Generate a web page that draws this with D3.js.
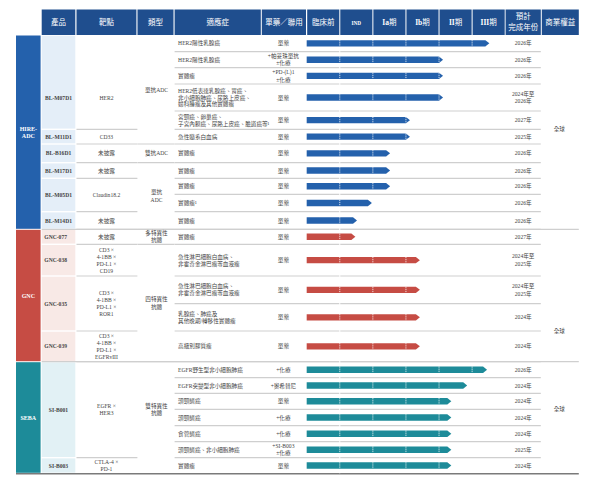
<!DOCTYPE html>
<html>
<head>
<meta charset="utf-8">
<script src="https://cdn.jsdelivr.net/npm/d3@7"></script>
<style>
  body { margin: 0; background: #fff; }
  svg { display: block; }
</style>
</head>
<body>
<svg id="chart" width="591" height="482"></svg>
<script>
// ---------- data ----------
const headers = ["產品", "靶點", "類型", "適應症", "單藥／聯用"];
const stages = ["臨床前", "IND", "Ia期", "Ib期", "II期", "III期"];
const tailHeaders = ["預計\n完成年份", "商業權益"];

const groups = [
  {name: "HIRE-\nADC", from: 0, to: 10},
  {name: "GNC", from: 11, to: 15},
  {name: "SEBA", from: 16, to: 22}
];
const products = [
  {text: "BL-M07D1", from: 0, to: 4},
  {text: "BL-M11D1", from: 5, to: 5},
  {text: "BL-B16D1", from: 6, to: 6},
  {text: "BL-M17D1", from: 7, to: 7},
  {text: "BL-M05D1", from: 8, to: 9},
  {text: "BL-M14D1", from: 10, to: 10},
  {text: "GNC-077", from: 11, to: 11},
  {text: "GNC-038", from: 12, to: 12},
  {text: "GNC-035", from: 13, to: 14},
  {text: "GNC-039", from: 15, to: 15},
  {text: "SI-B001", from: 16, to: 21},
  {text: "SI-B003", from: 22, to: 22}
];
const targets = [
  {text: "HER2", from: 0, to: 4},
  {text: "CD33", from: 5, to: 5},
  {text: "未披露", from: 6, to: 6},
  {text: "未披露", from: 7, to: 7},
  {text: "Claudin18.2", from: 8, to: 9},
  {text: "未披露", from: 10, to: 10},
  {text: "未披露", from: 11, to: 11},
  {text: "CD3 ×\n4-1BB ×\nPD-L1 ×\nCD19", from: 12, to: 12},
  {text: "CD3 ×\n4-1BB ×\nPD-L1 ×\nROR1", from: 13, to: 14},
  {text: "CD3 ×\n4-1BB ×\nPD-L1 ×\nEGFRvIII", from: 15, to: 15},
  {text: "EGFR ×\nHER3", from: 16, to: 21},
  {text: "CTLA-4 ×\nPD-1", from: 22, to: 22}
];
const types = [
  {text: "單抗ADC", from: 0, to: 5},
  {text: "雙抗ADC", from: 6, to: 6},
  {text: "單抗\nADC", from: 7, to: 10},
  {text: "多特異性\n抗體", from: 11, to: 11},
  {text: "四特異性\n抗體", from: 12, to: 15},
  {text: "雙特異性\n抗體", from: 16, to: 22}
];
const indications = [
  "HER2陽性乳腺癌",
  "HER2陽性乳腺癌",
  "實體瘤",
  "HER2低表達乳腺癌、胃癌、\n非小細胞肺癌、尿路上皮癌、\n婦科腫瘤及其他實體瘤",
  "宮頸癌、卵巢癌、\n子宮內膜癌、尿路上皮癌、膽道癌等¹",
  "急性髓系白血病",
  "實體瘤",
  "實體瘤",
  "實體瘤",
  "實體瘤¹",
  "實體瘤",
  "實體瘤",
  "急性淋巴細胞白血病、\n非霍奇金淋巴瘤等血液瘤",
  "急性淋巴細胞白血病、\n非霍奇金淋巴瘤等血液瘤",
  "乳腺癌、肺癌及\n其他晚期/轉移性實體瘤",
  "高級別膠質瘤",
  "EGFR野生型非小細胞肺癌",
  "EGFR突變型非小細胞肺癌",
  "頭頸鱗癌",
  "頭頸鱗癌",
  "食管鱗癌",
  "頭頸鱗癌、非小細胞肺癌",
  "實體瘤"
];
const combos = [
  "單藥", "+帕妥珠單抗\n±化療", "+PD-(L)1\n±化療", "單藥", "單藥", "單藥",
  "單藥", "單藥", "單藥", "單藥", "單藥",
  "單藥", "單藥", "單藥", "單藥", "單藥",
  "+化療", "+奧希替尼", "單藥", "+化療", "+化療", "+SI-B003\n±化療", "單藥"
];
// how far each bar reaches, in stages (0 = start of 臨床前, 6 = end of III期)
const progress = [
  5.4, 4.0, 4.0, 4.0, 3.0, 3.0, 2.4, 2.4, 2.4, 1.85, 1.4,
  1.35, 3.3, 3.3, 3.3, 3.3,
  5.33, 4.73, 4.25, 4.25, 4.25, 4.25, 4.25
];
const years = [
  "2026年", "2026年", "2026年", "2024年至\n2026年", "2027年", "2025年",
  "2026年", "2026年", "2026年", "2026年", "2026年",
  "2027年", "2024年至\n2025年", "2024年至\n2025年", "2024年", "2024年",
  "2026年", "2024年", "2024年", "2024年", "2024年", "2025年", "2024年"
];
const rights = ["全球", "全球", "全球"];

// ---------- layout ----------
const groupColor = ["#2461ac", "#c64c44", "#1d8b99"];
const groupLight = ["#e4eef8", "#f8e9e6", "#e2f1f5"];
const headerColor = "#1f4e8e";
const textColor = "#444";
const lineColor = "#cfcfcf";
const font = "'Liberation Serif', 'Noto Sans CJK TC', serif";

const rowH = [16.7, 16, 16.3, 27, 18.3, 14.7, 18.7, 15.6, 16, 17.4, 17.6,
              15, 31.7, 27.7, 27.3, 30.7,
              16, 15.6, 16, 16.4, 16, 16, 15.6];
const bodyTop = 35;
const yTop = [bodyTop].concat(Array.from(d3.cumsum(rowH), v => bodyTop + v));
const midY = (a, b) => (yTop[a] + yTop[b + 1]) / 2;

const cols = {
  group: [16, 40.6], product: [41.7, 75.3], target: [76.5, 136.4], type: [137.5, 173.5],
  ind: [174.6, 260.8], combo: [261.8, 306], year: [505.6, 540.8], rights: [541.8, 578.8]
};
const x = d3.scaleLinear().domain([0, stages.length]).range([306.7, 505.2]);
const headTop = 9.5, headBottom = 35;

// label centring exceptions seen in the original
const labelSpan = {product: {0: [3, 3]}, target: {0: [3, 3]}, type: {5: [16, 21]}};
const rightsAt = [5, 15, 19];
const productAnchor = ["middle", "start", "middle"];

const svg = d3.select("#chart");

function multiText(str, tx, ty, opts) {
  const o = Object.assign({size: 5.6, lh: 6.8, anchor: "middle", fill: textColor, weight: "normal"}, opts);
  const lines = str.split("\n");
  const t = svg.append("text")
    .attr("text-anchor", o.anchor)
    .attr("font-family", font)
    .attr("font-size", o.size)
    .attr("font-weight", o.weight)
    .attr("fill", o.fill);
  lines.forEach(function (l, i) {
    t.append("tspan")
      .attr("x", tx)
      .attr("y", ty - (lines.length - 1) * o.lh / 2 + i * o.lh + o.size * 0.36)
      .text(l);
  });
  return t;
}

// ---------- header ----------
const headCols = [cols.product, cols.target, cols.type, cols.ind, cols.combo]
  .concat(stages.map((s, i) => [x(i) + 0.5, x(i + 1) - 0.5]))
  .concat([cols.year, cols.rights]);
const headText = headers.concat(stages, tailHeaders);

svg.selectAll("rect.head")
  .data(headCols)
  .join("rect")
  .attr("class", "head")
  .attr("x", d => d[0])
  .attr("y", headTop)
  .attr("width", d => d[1] - d[0])
  .attr("height", headBottom - headTop)
  .attr("fill", headerColor);

headText.forEach(function (h, i) {
  const cx = (headCols[i][0] + headCols[i][1]) / 2;
  const cy = (headTop + headBottom) / 2;
  const m = h.match(/^(I+a?b?|IND)(期?)$/);
  if (m) {
    const t = svg.append("text")
      .attr("x", cx).attr("y", cy + 2.6)
      .attr("text-anchor", "middle")
      .attr("font-family", font)
      .attr("fill", "#fff");
    t.append("tspan").attr("font-weight", "bold")
      .attr("font-size", m[1] === "IND" ? 5.2 : 7.5).text(m[1]);
    if (m[2]) t.append("tspan").attr("font-size", 7.5).text(m[2]);
  } else {
    multiText(h, cx, cy, {size: 7.5, lh: 11, fill: "#fff"});
  }
});

// ---------- group & product backgrounds ----------
svg.selectAll("rect.group")
  .data(groups)
  .join("rect")
  .attr("x", cols.group[0])
  .attr("y", d => yTop[d.from] + 0.5)
  .attr("width", cols.group[1] - cols.group[0])
  .attr("height", d => yTop[d.to + 1] - yTop[d.from] - 1)
  .attr("fill", (d, i) => groupColor[i]);

const groupOf = r => groups.findIndex(g => r >= g.from && r <= g.to);

svg.selectAll("rect.prod")
  .data(products)
  .join("rect")
  .attr("x", cols.product[0])
  .attr("y", d => yTop[d.from] + 0.7)
  .attr("width", cols.product[1] - cols.product[0])
  .attr("height", d => yTop[d.to + 1] - yTop[d.from] - 1.4)
  .attr("fill", d => groupLight[groupOf(d.from)]);

// ---------- separators ----------
function hline(x1, x2, y, color, w) {
  svg.append("line")
    .attr("x1", x1).attr("x2", x2).attr("y1", y).attr("y2", y)
    .attr("stroke", color).attr("stroke-width", w);
}
const groupEnds = groups.slice(0, -1).map(g => g.to + 1);

d3.range(1, indications.length).forEach(function (k) {
  hline(cols.ind[0], cols.year[1], yTop[k], lineColor, 1.2);
});
[[targets, cols.target], [types, cols.type]].forEach(function ([cells, c]) {
  cells.forEach(function (d) {
    if (d.to + 1 < indications.length) hline(c[0], c[1] + 1, yTop[d.to + 1], lineColor, 1.2);
  });
});
groupEnds.forEach(function (k) {
  hline(cols.product[0], cols.rights[1], yTop[k], lineColor, 1.2);
});
hline(cols.group[0], cols.rights[1], yTop[indications.length] + 0.5, "#7a7a7a", 1.4);

svg.append("line")
  .attr("x1", x(1)).attr("x2", x(1))
  .attr("y1", bodyTop).attr("y2", yTop[indications.length])
  .attr("stroke", "#fff").attr("stroke-width", 1);

// ---------- text cells ----------
groups.forEach(function (g) {
  multiText(g.name, (cols.group[0] + cols.group[1]) / 2, midY(g.from, g.to),
    {fill: "#fff", weight: "bold", size: 6, lh: 7});
});

function spanOf(col, i, d) {
  const s = (labelSpan[col] || {})[i];
  return s ? midY(s[0], s[1]) : midY(d.from, d.to);
}

products.forEach(function (d, i) {
  const a = productAnchor[groupOf(d.from)];
  const px = a === "start" ? cols.product[0] + 2.6 : (cols.product[0] + cols.product[1]) / 2;
  multiText(d.text, px, spanOf("product", i, d), {anchor: a, weight: "bold"});
});
targets.forEach(function (d, i) {
  multiText(d.text, (cols.target[0] + cols.target[1]) / 2, spanOf("target", i, d), {lh: 7});
});
types.forEach(function (d, i) {
  multiText(d.text, (cols.type[0] + cols.type[1]) / 2 + 1, spanOf("type", i, d), {lh: 7.2});
});
indications.forEach(function (d, i) {
  multiText(d, cols.ind[0] + 3.5, midY(i, i), {anchor: "start"});
});
combos.forEach(function (d, i) {
  multiText(d, (cols.combo[0] + cols.combo[1]) / 2 - 0.5, midY(i, i), {lh: 7.4});
});
years.forEach(function (d, i) {
  multiText(d, (cols.year[0] + cols.year[1]) / 2, midY(i, i), {lh: 7.4});
});
rights.forEach(function (d, i) {
  multiText(d, (cols.rights[0] + cols.rights[1]) / 2 - 1, yTop[rightsAt[i]]);
});

// ---------- progress bars ----------
const bh = 6.4;
const bars = svg.append("g");
progress.forEach(function (p, i) {
  const cy = midY(i, i);
  const x0 = x(0), x1 = x(p);
  bars.append("path")
    .attr("d", `M${x0},${cy - bh / 2}H${x1}L${x1 + 4},${cy}L${x1},${cy + bh / 2}H${x0}Z`)
    .attr("fill", groupColor[groupOf(i)]);
  d3.range(1, stages.length).filter(k => x(k) < x1 + 2).forEach(function (k) {
    bars.append("line")
      .attr("x1", x(k)).attr("x2", x(k))
      .attr("y1", cy - bh / 2).attr("y2", cy + bh / 2)
      .attr("stroke", "#fff").attr("stroke-width", 0.8)
      .attr("stroke-dasharray", "1.2,0.9");
  });
});
</script>
</body>
</html>
